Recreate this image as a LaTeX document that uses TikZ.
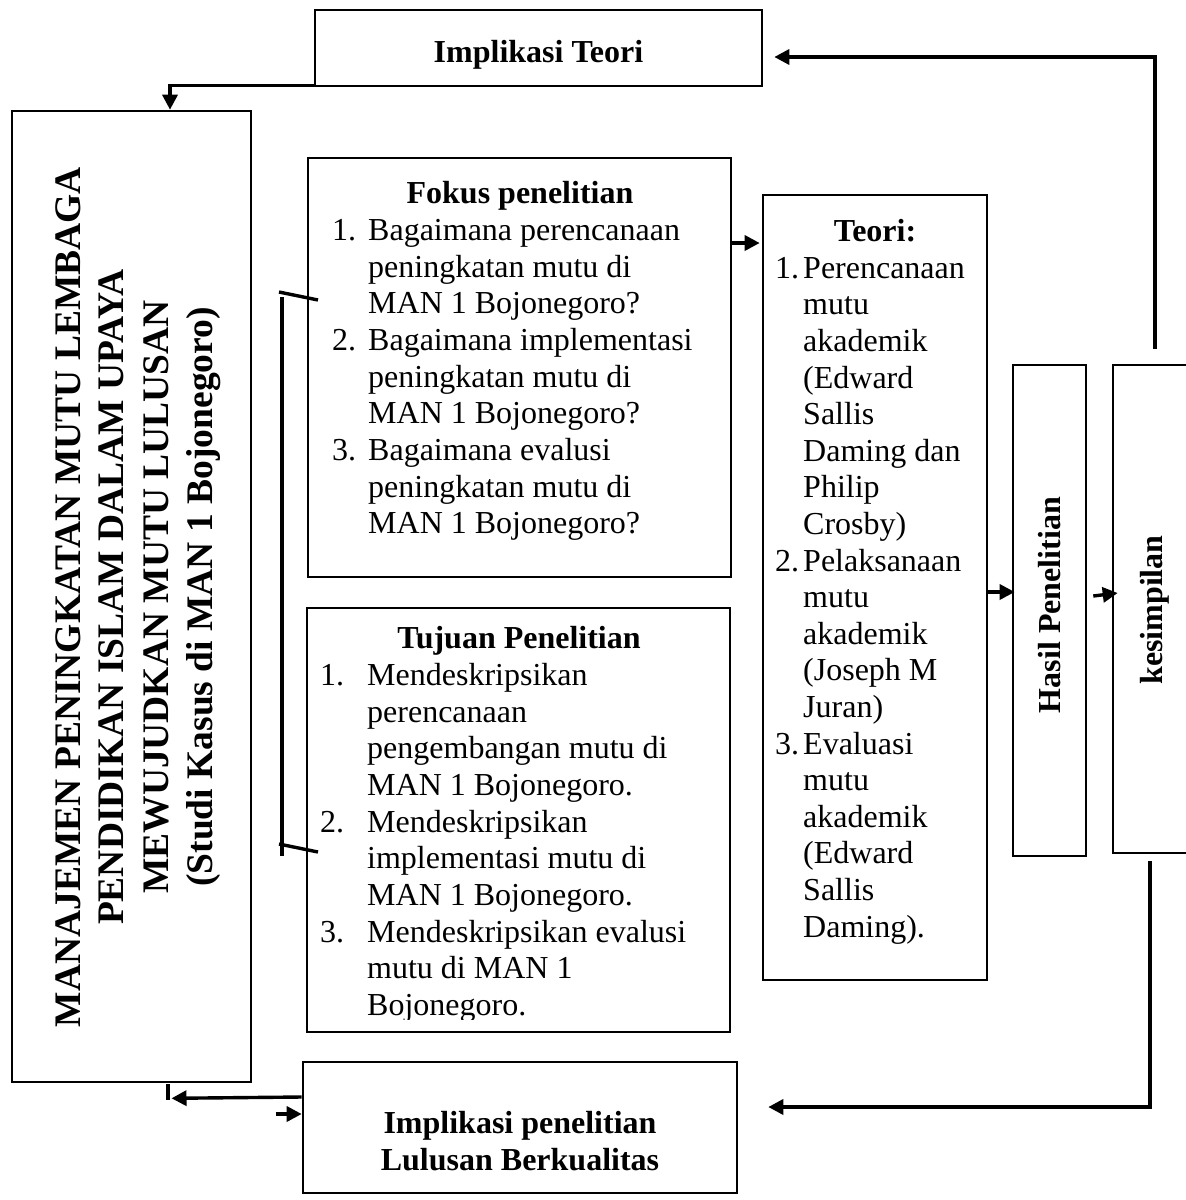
\documentclass[tikz,border=0pt]{standalone}
\usepackage{fontspec}
\setmainfont{Liberation Serif}
\usetikzlibrary{arrows.meta}
\begin{document}
\begin{tikzpicture}[x=1pt,y=-1pt,
  box/.style={draw,line width=2.6pt,inner sep=0pt},
  arr/.style={line width=3.4pt,-{Triangle[length=15pt,width=15pt]}},
  plain/.style={line width=3.4pt},
  txt/.style={inner sep=0pt,anchor=base west,font=\fontsize{32}{36.6}\selectfont},
  ttl/.style={inner sep=0pt,anchor=base,font=\fontsize{32}{36.6}\selectfont\bfseries},
  vtitle/.style={inner sep=0pt,anchor=base,rotate=90,font=\fontsize{37.5}{44}\selectfont\bfseries}]
\useasboundingbox (0,0) rectangle (1186,1200);
\clip (0,0) rectangle (1186,1200);
% boxes
\node[box,minimum width=447pt,minimum height=76pt] (it) at (538.5,48) {};
\node[box,minimum width=239pt,minimum height=971pt] (main) at (131.5,596.5) {};
\node[box,minimum width=423pt,minimum height=419pt] (fokus) at (519.5,367.5) {};
\node[box,minimum width=423pt,minimum height=424pt] (tujuan) at (518.5,820) {};
\node[box,minimum width=224pt,minimum height=785pt] (teori) at (875,587.5) {};
\node[box,minimum width=73pt,minimum height=491pt] (hasil) at (1049.5,610.5) {};
\node[box,minimum width=82pt,minimum height=488pt] (kes) at (1154,609) {};
\node[box,minimum width=434pt,minimum height=131pt] (ip) at (520,1127.5) {};
% top box
\node[ttl] (itt) at (538.5,62) {Implikasi Teori};
% main vertical title
\node[vtitle] (m1) at (80,597) {MANAJEMEN PENINGKATAN MUTU LEMBAGA};
\node[vtitle] (m2) at (123,597) {PENDIDIKAN ISLAM DALAM UPAYA};
\node[vtitle] (m3) at (168,597) {MEWUJUDKAN MUTU LULUSAN};
\node[vtitle] (m4) at (212,597) {(Studi Kasus di MAN 1 Bojonegoro)};
% fokus
\node[ttl] (ft) at (520,203) {Fokus penelitian};
\node[txt] (fn1) at (332,240) {1.};
\node[txt] (f1) at (368,240) {Bagaimana perencanaan};
\node[txt] (f2) at (368,277) {peningkatan mutu di};
\node[txt] (f3) at (368,313) {MAN 1 Bojonegoro?};
\node[txt] (fn2) at (332,350) {2.};
\node[txt] (f4) at (368,350) {Bagaimana implementasi};
\node[txt] (f5) at (368,387) {peningkatan mutu di};
\node[txt] (f6) at (368,423) {MAN 1 Bojonegoro?};
\node[txt] (fn3) at (332,460) {3.};
\node[txt] (f7) at (368,460) {Bagaimana evalusi};
\node[txt] (f8) at (368,497) {peningkatan mutu di};
\node[txt] (f9) at (368,533) {MAN 1 Bojonegoro?};
% tujuan
\node[ttl] (tt) at (519,648) {Tujuan Penelitian};
\node[txt] (tn1) at (320,685) {1.};
\node[txt] (t1) at (367,685) {Mendeskripsikan};
\node[txt] (t2) at (367,722) {perencanaan};
\node[txt] (t3) at (367,758) {pengembangan mutu di};
\node[txt] (t4) at (367,795) {MAN 1 Bojonegoro.};
\node[txt] (tn2) at (320,832) {2.};
\node[txt] (t5) at (367,832) {Mendeskripsikan};
\node[txt] (t6) at (367,868) {implementasi mutu di};
\node[txt] (t7) at (367,905) {MAN 1 Bojonegoro.};
\node[txt] (tn3) at (320,942) {3.};
\node[txt] (t8) at (367,942) {Mendeskripsikan evalusi};
\node[txt] (t9) at (367,978) {mutu di MAN 1};
\begin{scope}
\clip (300,990) rectangle (740,1019);
\node[txt] (t10) at (367,1015) {Bojonegoro.};
\end{scope}
% teori
\node[ttl] (tr) at (875,241.6) {Teori:};
\node[txt] (rn1) at (775,278.2) {1.};
\node[txt] (r1) at (803,278.2) {Perencanaan};
\node[txt] (r2) at (803,314.8) {mutu};
\node[txt] (r3) at (803,351.4) {akademik};
\node[txt] (r4) at (803,388.0) {(Edward};
\node[txt] (r5) at (803,424.6) {Sallis};
\node[txt] (r6) at (803,461.2) {Daming dan};
\node[txt] (r7) at (803,497.8) {Philip};
\node[txt] (r8) at (803,534.4) {Crosby)};
\node[txt] (rn2) at (775,571.0) {2.};
\node[txt] (r9) at (803,571.0) {Pelaksanaan};
\node[txt] (r10) at (803,607.6) {mutu};
\node[txt] (r11) at (803,644.2) {akademik};
\node[txt] (r12) at (803,680.8) {(Joseph M};
\node[txt] (r13) at (803,717.4) {Juran)};
\node[txt] (rn3) at (775,754.0) {3.};
\node[txt] (r14) at (803,754.0) {Evaluasi};
\node[txt] (r15) at (803,790.6) {mutu};
\node[txt] (r16) at (803,827.2) {akademik};
\node[txt] (r17) at (803,863.8) {(Edward};
\node[txt] (r18) at (803,900.4) {Sallis};
\node[txt] (r19) at (803,937.0) {Daming).};
% rotated side boxes
\node[inner sep=0pt,rotate=90,font=\fontsize{32}{36}\selectfont\bfseries] (hl) at (1049.5,605) {Hasil Penelitian};
\node[inner sep=0pt,rotate=90,font=\fontsize{32}{36}\selectfont\bfseries] (kl) at (1155,610) {kesimpilan};
% bottom box
\node[ttl] (ip1) at (520,1133) {Implikasi penelitian};
\node[ttl] (ip2) at (520,1170) {Lulusan Berkualitas};
% connectors
\draw[arr] ([yshift=2pt]it.south west) -| ([xshift=38.5pt]main.north);
\draw[arr] ([xshift=1pt,yshift=15pt]kes.north) |- ([xshift=11pt,yshift=-9pt]it.east);
\draw[arr] ([yshift=124.5pt]fokus.east) -- ([xshift=-2pt,yshift=344.5pt]teori.west);
\draw[arr] ([yshift=-4.5pt]teori.east) -- ([xshift=3pt,yshift=18.5pt]hasil.west);
\draw[arr] ([xshift=6pt,yshift=14.5pt]hasil.east) -- ([xshift=6pt,yshift=16pt]kes.west);
\draw[arr] ([xshift=-4pt,yshift=-7pt]kes.south) |- ([xshift=30pt,yshift=20.5pt]ip.east);
\draw[arr] ([yshift=30.5pt]ip.west) -- ([xshift=40pt,yshift=-15pt]main.south);
\draw[plain] ([xshift=36.5pt,yshift=-1pt]main.south) -- ([xshift=36.5pt,yshift=-17pt]main.south);
\draw[arr] ([xshift=-26pt,yshift=13.5pt]ip.west) -- ([yshift=13.5pt]ip.west);
% bracket
\coordinate (bt) at (282,297);
\coordinate (bb) at (282,856);
\coordinate (bt1) at (279,292);
\coordinate (bt2) at (318,300);
\coordinate (bb1) at (279,844);
\coordinate (bb2) at (318,852);
\draw[plain] (bt) -- (bb);
\draw[plain] (bt1) -- (bt2);
\draw[plain] (bb1) -- (bb2);
\end{tikzpicture}
\end{document}
